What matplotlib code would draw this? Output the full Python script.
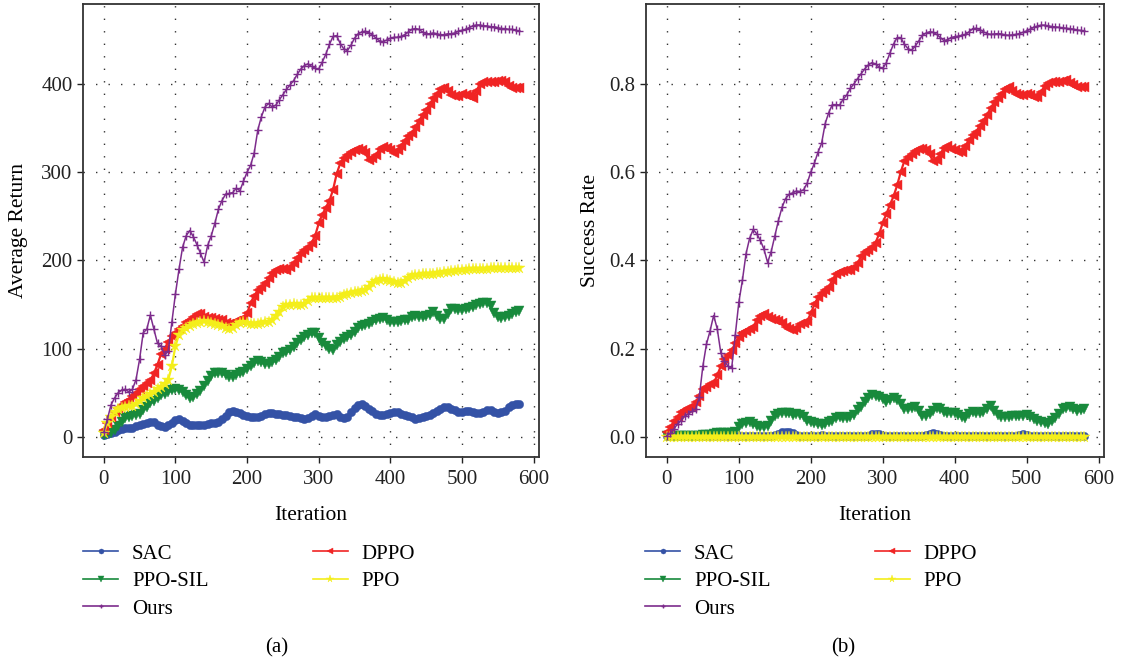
import numpy as np
import matplotlib
matplotlib.use("Agg")
import matplotlib.pyplot as plt
from matplotlib.lines import Line2D

plt.rcParams['font.family'] = ['Liberation Serif', 'DejaVu Serif']

ITER = list(range(0, 581, 5))

# ---- (a) Average Return ----
R_SAC = [2, 3, 4, 6, 8, 9, 10, 10, 10, 12,
         13, 15, 16, 17, 17, 14, 12, 11, 13, 16,
         19, 20, 18, 16, 14, 13, 13, 13, 14, 15,
         16, 16, 17, 20, 24, 28, 29, 28, 27, 25,
         24, 23, 23, 23, 24, 26, 27, 27, 26, 26,
         25, 25, 24, 23, 22, 21, 20, 21, 24, 26,
         24, 22, 23, 24, 25, 26, 23, 21, 22, 28,
         33, 36, 37, 35, 32, 29, 26, 25, 25, 26,
         27, 28, 28, 26, 25, 24, 22, 20, 21, 23,
         24, 25, 27, 29, 32, 34, 34, 32, 30, 28,
         28, 29, 29, 28, 27, 27, 28, 30, 30, 28,
         27, 28, 29, 34, 36, 37, 37]
R_SIL = [2, 3, 4, 8, 12, 17, 21, 23, 24, 25,
         26, 30, 34, 38, 41, 44, 47, 49, 51, 53,
         54, 53, 51, 47, 44, 45, 49, 52, 58, 63,
         69, 72, 73, 72, 70, 68, 68, 70, 72, 74,
         77, 80, 84, 86, 85, 83, 83, 85, 87, 91,
         95, 96, 98, 102, 106, 110, 113, 116, 118, 118,
         112, 106, 103, 100, 99, 104, 108, 111, 113, 115,
         119, 123, 126, 127, 128, 130, 132, 134, 135, 133,
         130, 130, 130, 131, 132, 133, 136, 137, 136, 136,
         137, 138, 142, 137, 134, 134, 139, 145, 145, 144,
         144, 145, 146, 147, 149, 151, 152, 152, 148, 140,
         136, 135, 136, 137, 139, 142, 143]
R_DPPO = [8, 16, 22, 28, 33, 36, 39, 42, 46, 50,
          54, 58, 61, 64, 72, 82, 94, 100, 108, 114,
          118, 122, 126, 130, 133, 136, 139, 139, 136, 135,
          135, 134, 133, 132, 129, 128, 129, 131, 133, 135,
          140, 152, 160, 166, 170, 174, 180, 186, 189, 190,
          190, 189, 193, 197, 203, 209, 212, 215, 220, 228,
          242, 252, 260, 268, 280, 298, 310, 316, 320, 323,
          325, 326, 325, 322, 314, 316, 320, 326, 329, 327,
          325, 322, 325, 330, 336, 341, 345, 351, 358, 365,
          371, 377, 384, 389, 394, 396, 392, 388, 387, 387,
          389, 388, 386, 384, 392, 400, 402, 402, 402, 402,
          403, 404, 402, 398, 395, 396, 396]
R_PPO = [4, 16, 23, 28, 32, 33, 34, 35, 35, 37,
         41, 44, 46, 49, 51, 54, 56, 60, 65, 80,
         103, 116, 121, 124, 126, 128, 129, 130, 131, 130,
         129, 128, 127, 126, 124, 122, 124, 127, 129, 130,
         129, 128, 128, 128, 129, 130, 130, 133, 137, 142,
         147, 149, 150, 151, 150, 150, 151, 154, 157, 158,
         158, 158, 157, 157, 158, 158, 159, 161, 162, 163,
         164, 164, 165, 167, 170, 175, 177, 178, 179, 178,
         177, 176, 175, 175, 177, 180, 182, 183, 184, 185,
         185, 185, 185, 186, 186, 187, 187, 188, 188, 189,
         189, 189, 190, 190, 190, 190, 190, 190, 191, 191,
         191, 191, 192, 192, 192, 192, 192]
R_OURS = [5, 20, 36, 44, 50, 53, 54, 51, 54, 65,
          88, 118, 122, 138, 122, 106, 103, 93, 97, 130,
          162, 190, 215, 228, 234, 227, 218, 208, 198, 217,
          228, 242, 258, 268, 275, 276, 277, 282, 279, 290,
          300, 308, 322, 348, 363, 374, 378, 374, 376, 382,
          388, 394, 399, 404, 411, 417, 421, 423, 420, 418,
          417, 425, 434, 445, 454, 455, 446, 440, 438, 444,
          452, 457, 459, 460, 458, 456, 452, 449, 448, 450,
          452, 453, 453, 454, 456, 459, 462, 463, 462, 459,
          457, 457, 458, 457, 456, 456, 457, 457, 458, 460,
          461, 462, 464, 466, 467, 467, 466, 466, 465, 465,
          464, 463, 463, 462, 462, 461, 460]

# ---- (b) Success Rate ----
S_SAC = [0.001, 0.001, 0.002, 0.002, 0.002, 0.002, 0.002, 0.002, 0.002, 0.002,
         0.002, 0.002, 0.002, 0.002, 0.002, 0.002, 0.002, 0.002, 0.002, 0.002,
         0.002, 0.003, 0.003, 0.002, 0.002, 0.002, 0.002, 0.002, 0.002, 0.003,
         0.004, 0.006, 0.010, 0.012, 0.011, 0.008, 0.004, 0.002, 0.002, 0.002,
         0.002, 0.002, 0.003, 0.004, 0.003, 0.002, 0.002, 0.002, 0.002, 0.003,
         0.003, 0.002, 0.002, 0.002, 0.002, 0.002, 0.003, 0.006, 0.007, 0.006,
         0.003, 0.002, 0.003, 0.003, 0.003, 0.002, 0.002, 0.002, 0.002, 0.002,
         0.002, 0.003, 0.004, 0.007, 0.009, 0.007, 0.004, 0.002, 0.002, 0.002,
         0.002, 0.002, 0.002, 0.002, 0.002, 0.002, 0.003, 0.003, 0.002, 0.002,
         0.002, 0.002, 0.002, 0.003, 0.003, 0.003, 0.003, 0.003, 0.004, 0.006,
         0.004, 0.002, 0.002, 0.002, 0.002, 0.002, 0.002, 0.003, 0.003, 0.003,
         0.003, 0.003, 0.002, 0.002, 0.002, 0.002, 0.002]
S_SIL = [0.002, 0.002, 0.002, 0.002, 0.002, 0.003, 0.003, 0.003, 0.003, 0.003,
         0.004, 0.004, 0.005, 0.006, 0.008, 0.008, 0.008, 0.008, 0.009, 0.010,
         0.022, 0.028, 0.031, 0.033, 0.028, 0.024, 0.022, 0.023, 0.025, 0.035,
         0.047, 0.052, 0.054, 0.055, 0.053, 0.050, 0.052, 0.050, 0.044, 0.036,
         0.033, 0.031, 0.030, 0.027, 0.029, 0.033, 0.036, 0.042, 0.045, 0.043,
         0.042, 0.045, 0.050, 0.060, 0.068, 0.078, 0.088, 0.095, 0.093, 0.091,
         0.085, 0.079, 0.083, 0.088, 0.083, 0.075, 0.064, 0.063, 0.066, 0.067,
         0.058, 0.047, 0.047, 0.052, 0.058, 0.065, 0.062, 0.056, 0.055, 0.055,
         0.053, 0.050, 0.045, 0.042, 0.052, 0.056, 0.055, 0.055, 0.056, 0.062,
         0.069, 0.058, 0.050, 0.046, 0.045, 0.045, 0.047, 0.048, 0.047, 0.048,
         0.050, 0.046, 0.041, 0.037, 0.034, 0.031, 0.030, 0.036, 0.043, 0.052,
         0.062, 0.066, 0.068, 0.062, 0.058, 0.061, 0.064]
S_DPPO = [0.010, 0.022, 0.035, 0.046, 0.056, 0.061, 0.065, 0.068, 0.078, 0.093,
          0.108, 0.113, 0.119, 0.121, 0.140, 0.160, 0.176, 0.186, 0.196, 0.212,
          0.227, 0.236, 0.241, 0.245, 0.250, 0.264, 0.274, 0.278, 0.272, 0.267,
          0.265, 0.263, 0.258, 0.250, 0.245, 0.242, 0.247, 0.256, 0.259, 0.262,
          0.280, 0.300, 0.316, 0.325, 0.333, 0.340, 0.355, 0.368, 0.374, 0.376,
          0.377, 0.378, 0.385, 0.393, 0.410, 0.418, 0.424, 0.430, 0.440, 0.460,
          0.485, 0.505, 0.526, 0.545, 0.570, 0.600, 0.625, 0.635, 0.642, 0.648,
          0.652, 0.652, 0.650, 0.640, 0.625, 0.628, 0.640, 0.655, 0.660, 0.653,
          0.650, 0.646, 0.645, 0.660, 0.672, 0.683, 0.692, 0.705, 0.716, 0.730,
          0.745, 0.758, 0.768, 0.778, 0.788, 0.792, 0.784, 0.777, 0.774, 0.775,
          0.777, 0.775, 0.771, 0.770, 0.782, 0.795, 0.803, 0.804, 0.804, 0.804,
          0.806, 0.808, 0.803, 0.797, 0.793, 0.792, 0.792]
S_PPO = [0.0, 0.0, 0.0, 0.0, 0.0, 0.0, 0.0, 0.0, 0.0, 0.0,
         0.0, 0.0, 0.0, 0.0, 0.0, 0.0, 0.0, 0.0, 0.0, 0.0,
         0.0, 0.0, 0.0, 0.0, 0.0, 0.0, 0.0, 0.0, 0.0, 0.0,
         0.0, 0.0, 0.0, 0.0, 0.0, 0.0, 0.0, 0.0, 0.0, 0.0,
         0.0, 0.0, 0.0, 0.0, 0.0, 0.0, 0.0, 0.0, 0.0, 0.0,
         0.0, 0.0, 0.0, 0.0, 0.0, 0.0, 0.0, 0.0, 0.0, 0.0,
         0.0, 0.0, 0.0, 0.0, 0.0, 0.0, 0.0, 0.0, 0.0, 0.0,
         0.0, 0.0, 0.0, 0.0, 0.0, 0.0, 0.0, 0.0, 0.0, 0.0,
         0.0, 0.0, 0.0, 0.0, 0.0, 0.0, 0.0, 0.0, 0.0, 0.0,
         0.0, 0.0, 0.0, 0.0, 0.0, 0.0, 0.0, 0.0, 0.0, 0.0,
         0.0, 0.0, 0.0, 0.0, 0.0, 0.0, 0.0, 0.0, 0.0, 0.0,
         0.0, 0.0, 0.0, 0.0, 0.0, 0.0, 0.0]
S_OURS = [0.003, 0.008, 0.018, 0.030, 0.037, 0.047, 0.052, 0.058, 0.063, 0.090,
          0.160, 0.210, 0.240, 0.275, 0.245, 0.190, 0.172, 0.160, 0.155, 0.230,
          0.305, 0.355, 0.415, 0.450, 0.470, 0.460, 0.445, 0.425, 0.395, 0.420,
          0.455, 0.490, 0.520, 0.540, 0.550, 0.553, 0.557, 0.556, 0.560, 0.575,
          0.600, 0.620, 0.645, 0.665, 0.710, 0.735, 0.753, 0.753, 0.752, 0.765,
          0.775, 0.790, 0.800, 0.812, 0.823, 0.834, 0.843, 0.848, 0.845, 0.838,
          0.835, 0.848, 0.870, 0.890, 0.905, 0.905, 0.890, 0.880, 0.876, 0.885,
          0.897, 0.910, 0.915, 0.918, 0.917, 0.912, 0.905, 0.898, 0.900, 0.905,
          0.907, 0.908, 0.910, 0.912, 0.918, 0.925, 0.926, 0.923, 0.918, 0.914,
          0.912, 0.913, 0.914, 0.913, 0.911, 0.910, 0.911, 0.912, 0.914, 0.917,
          0.920, 0.924, 0.928, 0.931, 0.933, 0.933, 0.931, 0.930, 0.929, 0.928,
          0.927, 0.926, 0.925, 0.924, 0.922, 0.921, 0.920]

LABELS = ["SAC", "PPO-SIL", "Ours", "DPPO", "PPO"]
X_TICKS = [0, 100, 200, 300, 400, 500, 600]
Y_TICKS_A = [0, 100, 200, 300, 400]
Y_TICKS_B = [0.0, 0.2, 0.4, 0.6, 0.8]
Y_TICKLABELS_B = ["0.0", "0.2", "0.4", "0.6", "0.8"]

COL = {"SAC": "#3452A6", "PPO-SIL": "#188A3C", "Ours": "#7D2C8C",
       "DPPO": "#F02424", "PPO": "#F4EE1A"}
MRK = {"SAC": "o", "PPO-SIL": "v", "Ours": "+", "DPPO": "<", "PPO": "*"}
MS = {"SAC": 6, "PPO-SIL": 7.5, "Ours": 6, "DPPO": 7.5, "PPO": 9}
LW = {"SAC": 1.6, "PPO-SIL": 1.6, "Ours": 1.1, "DPPO": 1.6, "PPO": 1.6}

FS_TICK = 15
FS_LAB = 15.5
FS_LEG = 15

fig = plt.figure(figsize=(11.21, 6.63), dpi=100)
W, H = 1121, 663
axA = fig.add_axes([83 / W, 1 - 457 / H, (539 - 83) / W, (457 - 4) / H])
axB = fig.add_axes([646 / W, 1 - 457 / H, (1104 - 646) / W, (457 - 4) / H])


def draw(ax, data, yticks, ylim, ylabel, ylab_x):
    order = ["SAC", "PPO-SIL", "DPPO", "PPO", "Ours"]
    for name in order:
        ax.plot(ITER, data[name], color=COL[name], marker=MRK[name],
                ms=MS[name], lw=LW[name], mew=1.0 if name == "Ours" else 0.3,
                mec=COL[name], zorder=3)
    ax.set_xlim(-29, 607.5)
    ax.set_ylim(*ylim)
    ax.set_xticks(X_TICKS)
    ax.set_yticks(yticks)
    ax.grid(True, color="#333333", linestyle=(0, (1, 8)), lw=1.0)
    ax.tick_params(direction="out", length=4, width=1, labelsize=FS_TICK,
                   colors="#222222")
    ax.tick_params(axis="x", pad=5)
    for s in ax.spines.values():
        s.set_linewidth(1.3)
        s.set_color("#333333")
    ax.set_xlabel("Iteration", fontsize=FS_LAB)
    ax.xaxis.set_label_coords(0.5, -0.108)
    ax.set_ylabel(ylabel, fontsize=FS_LAB)
    ax.yaxis.set_label_coords(ylab_x, 0.5)


draw(axA, {"SAC": R_SAC, "PPO-SIL": R_SIL, "DPPO": R_DPPO, "PPO": R_PPO, "Ours": R_OURS},
     Y_TICKS_A, (-22.8, 490.8), "Average Return", -0.121)
draw(axB, {"SAC": S_SAC, "PPO-SIL": S_SIL, "DPPO": S_DPPO, "PPO": S_PPO, "Ours": S_OURS},
     Y_TICKS_B, (-0.0457, 0.981), "Success Rate", -0.100)
axB.set_yticklabels(Y_TICKLABELS_B)

handles = [Line2D([], [], color=COL[n], marker=MRK[n], ms=MS[n] * 0.6,
                  lw=1.2, mew=1.0 if n == "Ours" else 0.3) for n in LABELS]

for x0, cap, cx in [(83, "(a)", 277), (645, "(b)", 843)]:
    fig.legend(handles, LABELS, ncol=2, frameon=False, fontsize=FS_LEG,
               loc="upper left", bbox_to_anchor=(x0 / W, 1 - 544 / H),
               handlelength=1.7, handletextpad=0.65, columnspacing=5.0,
               labelspacing=0.38, borderaxespad=0, borderpad=0)
    fig.text(cx / W, 1 - 648 / H, cap, fontsize=FS_LEG, ha="center", va="center")

fig.savefig("out.png", dpi=100)
